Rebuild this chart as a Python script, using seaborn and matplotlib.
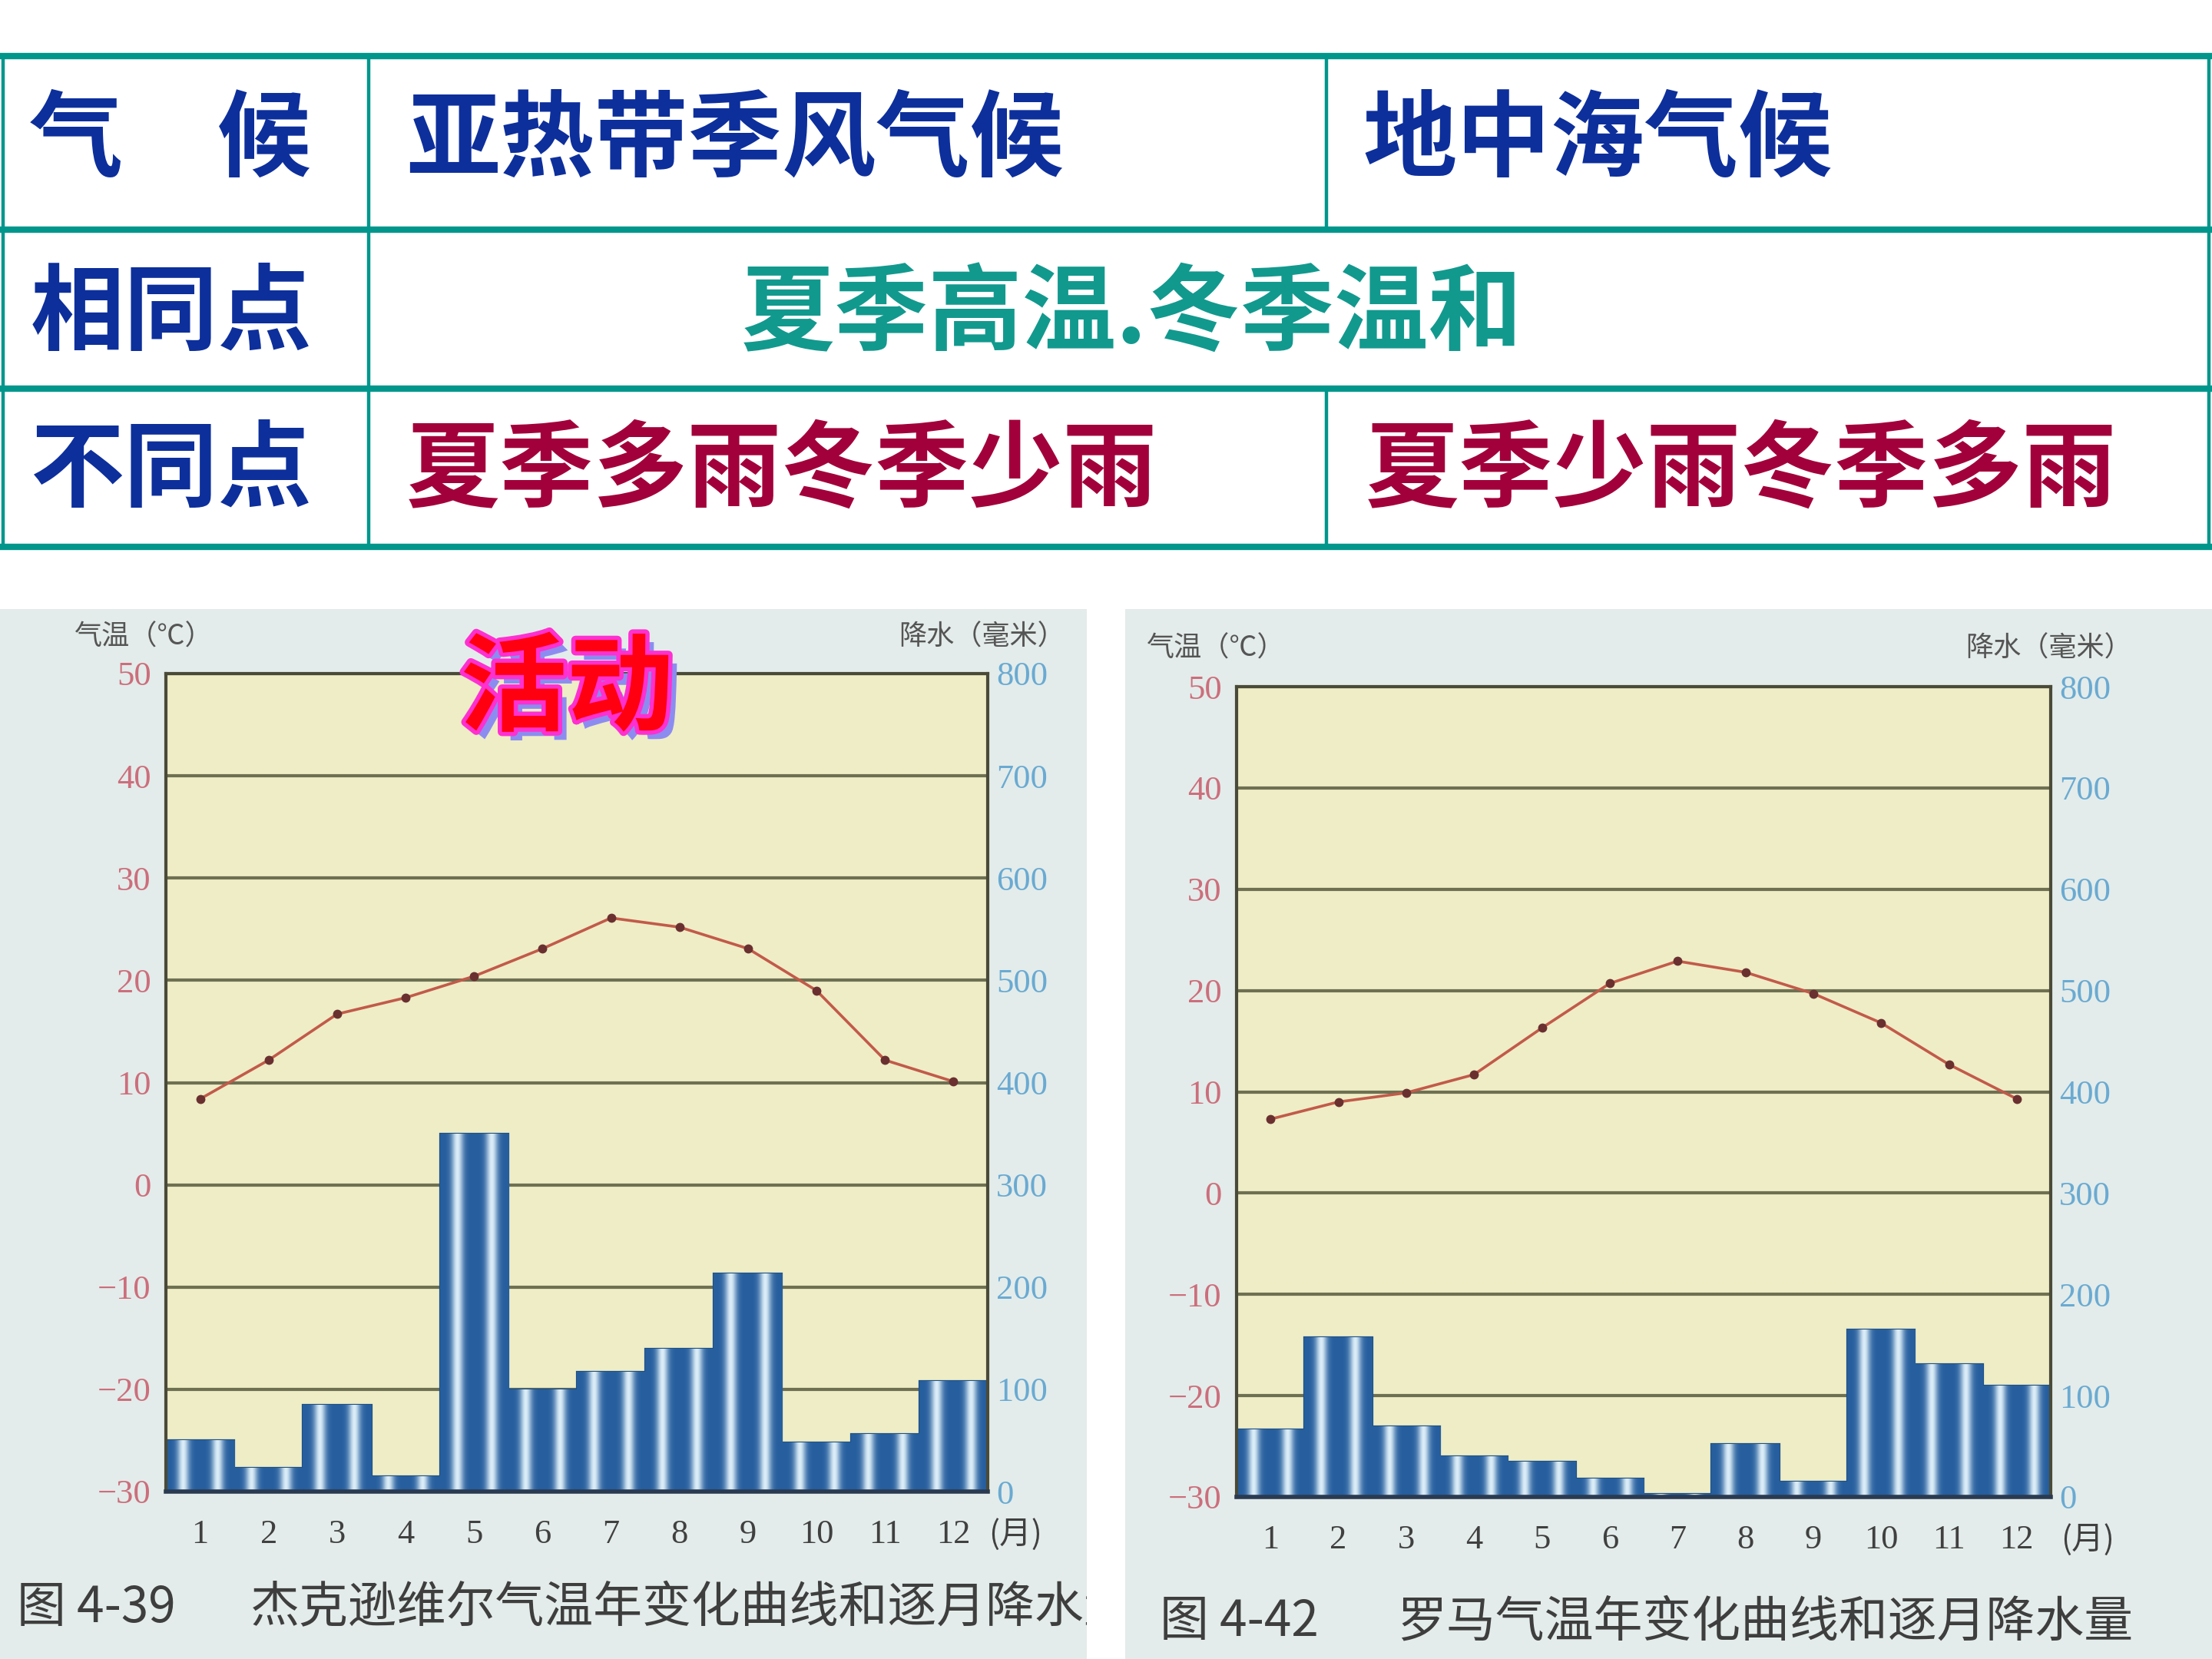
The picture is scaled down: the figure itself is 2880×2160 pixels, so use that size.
import numpy as np
import pandas as pd
import matplotlib
matplotlib.use("Agg")
import matplotlib.pyplot as plt
import matplotlib.patheffects as pe
from matplotlib.patches import Rectangle
import seaborn as sns

# ---------------- data ----------------
months = [1, 2, 3, 4, 5, 6, 7, 8, 9, 10, 11, 12]
month_labels = [str(m) for m in months]

jack_temp = [8.4, 12.2, 16.7, 18.3, 20.4, 23.1, 26.1, 25.2, 23.1, 19.0, 12.2, 10.1]
jack_prec = [50, 23, 85, 15, 350, 100, 117, 140, 213, 48, 56, 108]

rome_temp = [7.3, 9.0, 9.9, 11.7, 16.3, 20.7, 22.9, 21.8, 19.7, 16.8, 12.7, 9.3]
rome_prec = [67, 158, 70, 40, 35, 18, 3, 52, 15, 165, 131, 110]

temp_ticks = [-30, -20, -10, 0, 10, 20, 30, 40, 50]
prec_ticks = [0, 100, 200, 300, 400, 500, 600, 700, 800]

row_headers = ["气　候", "相同点", "不同点"]
climate_names = ["亚热带季风气候", "地中海气候"]
common_text = "夏季高温.冬季温和"
diff_texts = ["夏季多雨冬季少雨", "夏季少雨冬季多雨"]

caption_nums = ["图 4-39", "图 4-42"]
caption_titles = ["杰克逊维尔气温年变化曲线和逐月降水量", "罗马气温年变化曲线和逐月降水量"]
temp_title = "气温（℃）"
prec_title = "降水（毫米）"
month_unit = "(月)"
activity = "活动"

# ---------------- style ----------------
sns.set_style("white")
CJK = ["Noto Sans CJK SC", "DejaVu Sans"]
SERIF = ["Liberation Serif", "DejaVu Serif"]
plt.rcParams["font.family"] = CJK

W, H = 2880, 2160
fig = plt.figure(figsize=(14.4, 10.8), dpi=200)
fig.patch.set_facecolor("white")

# overlay axes in pixel units for the table and backgrounds
bg = fig.add_axes([0, 0, 1, 1])
bg.set_xlim(0, W)
bg.set_ylim(H, 0)
bg.axis("off")
bg.set_zorder(-1)

# photo backgrounds
photo_col = "#e3ecea"
rect_l = Rectangle((0, 793), 1415, H - 793, facecolor=photo_col, edgecolor="none")
rect_r = Rectangle((1465, 793), W - 1465, H - 793, facecolor=photo_col, edgecolor="none")
bg.add_patch(rect_l)
bg.add_patch(rect_r)

# ---------------- table ----------------
tcol = "#00968c"
hlines = [73, 299, 506, 712]
for y in hlines:
    bg.plot([0, W], [y, y], color=tcol, lw=3.0, solid_capstyle="butt")
bg.plot([4, 4], [hlines[0], hlines[-1]], color=tcol, lw=1.6)
bg.plot([W - 4, W - 4], [hlines[0], hlines[-1]], color=tcol, lw=1.6)
bg.plot([480, 480], [hlines[0], hlines[-1]], color=tcol, lw=1.6)
bg.plot([1727, 1727], [hlines[0], hlines[1]], color=tcol, lw=1.6)
bg.plot([1727, 1727], [hlines[2], hlines[3]], color=tcol, lw=1.6)

blue = "#0d2f9c"
teal = "#12998e"
crim = "#a2003a"
fs_tab = 44
row_y = [184, 410, 614]
bg.text(38, row_y[0], row_headers[0], color=blue, fontsize=fs_tab, fontweight="bold", ha="left", va="center")
bg.text(40, row_y[1], row_headers[1], color=blue, fontsize=fs_tab, fontweight="bold", ha="left", va="center")
bg.text(40, row_y[2], row_headers[2], color=blue, fontsize=fs_tab, fontweight="bold", ha="left", va="center")
bg.text(529, row_y[0], climate_names[0], color=blue, fontsize=fs_tab, fontweight="bold", ha="left", va="center")
bg.text(1774, row_y[0], climate_names[1], color=blue, fontsize=fs_tab, fontweight="bold", ha="left", va="center")
bg.text(1474, row_y[1], common_text, color=teal, fontsize=fs_tab, fontweight="bold", ha="center", va="center")
bg.text(529, row_y[2], diff_texts[0], color=crim, fontsize=fs_tab, fontweight="bold", ha="left", va="center")
bg.text(1778, row_y[2], diff_texts[1], color=crim, fontsize=fs_tab, fontweight="bold", ha="left", va="center")

# ---------------- charts ----------------
def gradient_bars(ax):
    t = np.linspace(0, 1, 240)
    half = (t * 2) % 1.0
    w = np.exp(-((half - 0.5) / 0.17) ** 2)
    dark = np.array([0.15, 0.37, 0.62])
    light = np.array([0.86, 0.93, 0.97])
    img = dark[None, :] * (1 - w[:, None]) + light[None, :] * w[:, None]
    img = img[None, :, :]
    for p in list(ax.patches):
        x0, y0 = p.get_x(), p.get_y()
        wd, ht = p.get_width(), p.get_height()
        if ht <= 0:
            continue
        im = ax.imshow(img, extent=[x0, x0 + wd, y0, y0 + ht], aspect="auto",
                       zorder=p.get_zorder() + 0.1, interpolation="bilinear")
        im.set_clip_path(p)
        p.set_edgecolor("#1d4f86")
        p.set_linewidth(0.8)


def climate_chart(rect, temps, precs, unit_x):
    ax_p = fig.add_axes(rect)
    ax_p.set_facecolor("#eeedc6")
    dfp = pd.DataFrame({"month": month_labels, "prec": precs})
    sns.barplot(data=dfp, x="month", y="prec", ax=ax_p, width=1.0,
                color="#2d64a2", saturation=1, zorder=2)
    gradient_bars(ax_p)
    ax_p.set_xlim(-0.5, len(months) - 0.5)
    ax_p.set_ylim(prec_ticks[0], prec_ticks[-1])
    ax_p.set_yticks(prec_ticks)
    ax_p.set_axisbelow(True)
    ax_p.yaxis.grid(True, color="#6e7052", lw=1.5)
    ax_p.xaxis.grid(False)
    ax_p.set_xlabel("")
    ax_p.set_ylabel("")

    ax_t = ax_p.twinx()
    dft = pd.DataFrame({"pos": np.arange(len(months)), "temp": temps})
    sns.lineplot(data=dft, x="pos", y="temp", ax=ax_t, color="#c25a4a", lw=1.3,
                 marker="o", markersize=3.5, markerfacecolor="#6a3030",
                 markeredgecolor="#6a3030")
    ax_t.set_ylim(temp_ticks[0], temp_ticks[-1])
    ax_t.set_yticks(temp_ticks)
    ax_t.set_xlim(-0.5, len(months) - 0.5)
    ax_t.set_ylabel("")
    ax_t.set_xlabel("")
    ax_t.set_yticklabels([str(v).replace("-", "−") for v in temp_ticks])

    # precipitation on the right, temperature on the left
    ax_p.yaxis.tick_right()
    ax_p.yaxis.set_label_position("right")
    ax_t.yaxis.tick_left()
    ax_t.yaxis.set_label_position("left")

    ax_p.tick_params(axis="y", length=0, pad=4, labelsize=16, labelcolor="#6aaad2",
                     left=False, labelleft=False, right=False, labelright=True)
    ax_p.tick_params(axis="x", length=0, pad=13, labelsize=16, labelcolor="#404040")
    ax_t.tick_params(axis="y", length=0, pad=7, labelsize=16, labelcolor="#cc6e7c",
                     left=False, labelleft=True, right=False, labelright=False)
    for lab in ax_p.get_yticklabels() + ax_p.get_xticklabels() + ax_t.get_yticklabels():
        lab.set_fontfamily(SERIF)

    for s in ax_p.spines.values():
        s.set_color("#4a4a38")
        s.set_linewidth(1.5)
        s.set_visible(True)
    ax_p.spines["bottom"].set_color("#2a3a50")
    ax_p.spines["bottom"].set_linewidth(2.0)
    for s in ax_t.spines.values():
        s.set_visible(False)
    ax_t.grid(False)
    ax_p.text(unit_x, -0.053, month_unit, transform=ax_p.transAxes, ha="center",
              va="center", fontsize=15, color="#404040")
    return ax_p, ax_t


climate_chart([216 / W, 1 - 1942 / H, 1070 / W, 1065 / H], jack_temp, jack_prec, 1.034)
climate_chart([1610 / W, 1 - 1949 / H, 1060 / W, 1055 / H], rome_temp, rome_prec, 1.045)

# axis titles
tcolr = "#555555"
bg.text(96, 830, temp_title, color=tcolr, fontsize=13, ha="left", va="center")
t1 = bg.text(1170, 830, prec_title, color=tcolr, fontsize=13, ha="left", va="center",
             clip_on=True)
t1.set_clip_path(rect_l)
bg.text(1492, 845, temp_title, color=tcolr, fontsize=13, ha="left", va="center")
bg.text(2559, 845, prec_title, color=tcolr, fontsize=13, ha="left", va="center")

# captions
capc = "#3e3e3e"
bg.text(22, 2094, caption_nums[0], color=capc, fontsize=23, ha="left", va="center")
c1 = bg.text(326, 2094, caption_titles[0], color=capc, fontsize=23, ha="left", va="center",
             clip_on=True)
c1.set_clip_path(rect_l)
bg.text(1510, 2112, caption_nums[1], color=capc, fontsize=23, ha="left", va="center")
bg.text(1819, 2112, caption_titles[1], color=capc, fontsize=23, ha="left", va="center")

# "活动" label
fig.text(738 / W, 1 - 900 / H, activity, fontsize=50, fontweight="bold",
         color="#ff0010", ha="center", va="center", zorder=20,
         path_effects=[pe.withSimplePatchShadow(offset=(4, -4), shadow_rgbFace="#8c8cf0", alpha=1.0),
                       pe.withStroke(linewidth=4, foreground="#ff30d0")])

fig.savefig("out.png", dpi=200, facecolor=fig.get_facecolor())
